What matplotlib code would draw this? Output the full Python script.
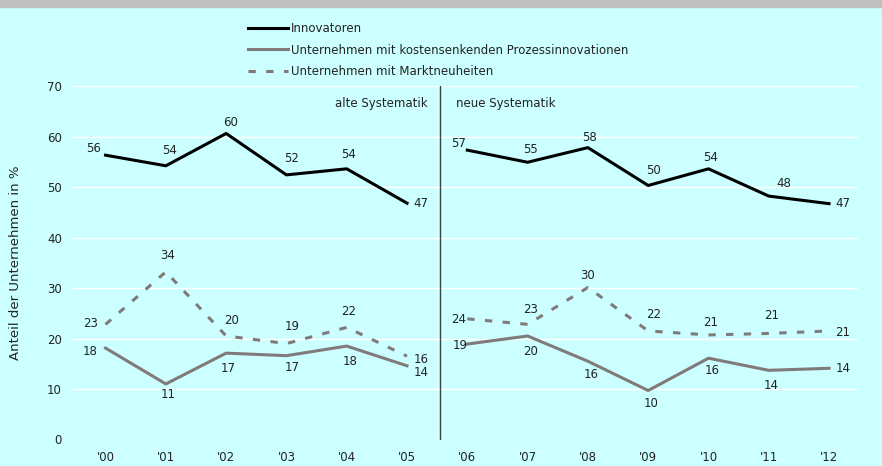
import numpy as np
import matplotlib
matplotlib.use('Agg')
import matplotlib.pyplot as plt
from matplotlib.patches import Rectangle

# data
years = ["'00", "'01", "'02", "'03", "'04", "'05", "'06", "'07", "'08", "'09", "'10", "'11", "'12"]
innovatoren = [56.3, 54.2, 60.6, 52.4, 53.6, 46.8, 57.3, 54.9, 57.8, 50.3, 53.6, 48.2, 46.7]
innovatoren_lbl = [56, 54, 60, 52, 54, 47, 57, 55, 58, 50, 54, 48, 47]
prozess = [18.1, 11.0, 17.1, 16.6, 18.5, 14.6, 18.9, 20.5, 15.5, 9.7, 16.1, 13.7, 14.1]
prozess_lbl = [18, 11, 17, 17, 18, 14, 19, 20, 16, 10, 16, 14, 14]
markt = [22.8, 33.2, 20.5, 19.0, 22.2, 16.5, 23.9, 22.8, 30.1, 21.5, 20.7, 21.0, 21.5]
markt_lbl = [23, 34, 20, 19, 22, 16, 24, 23, 30, 22, 21, 21, 21]
series_names = ['Innovatoren',
                'Unternehmen mit kostensenkenden Prozessinnovationen',
                'Unternehmen mit Marktneuheiten']
n_alt = 6  # '00-'05 alte Systematik, ab '06 neue Systematik

# label offsets in pixels (dx, dy)
off_inno = [(-12, 7), (4, 15), (4, 11), (5, 16), (2, 14), (14, 0),
            (-9, 7), (3, 13), (2, 10), (5, 15), (2, 11), (15, 13), (14, 0)]
off_proz = [(-15, -3), (2, -11), (2, -15), (6, -12), (3, -15), (14, -7),
            (-7, -1), (3, -16), (3, -13), (3, -13), (4, -12), (2, -15), (14, 0)]
off_markt = [(-15, 1), (2, 16), (5, 15), (6, 17), (2, 16), (14, -3),
             (-9, -1), (3, 15), (0, 12), (5, 16), (2, 12), (3, 18), (14, -2)]

bg = '#CCFFFF'
gray = '#807A7A'
txt = '#222222'
fs = 8.5
plt.rcParams['font.family'] = ['DejaVu Sans']

fig = plt.figure(figsize=(8.82, 4.66), dpi=100, facecolor=bg)
ax = fig.add_axes([73/882, 1-439.5/466, (858-73)/882, (439.5-86)/466])
ax.set_facecolor(bg)
fig.patches.append(Rectangle((0, 1-7/466), 1, 7/466, transform=fig.transFigure,
                             color='#C0C0C0', zorder=0))

x = np.arange(len(years))
styles = [dict(color='black', lw=2.2),
          dict(color=gray, lw=2.2),
          dict(color=gray, lw=2.2, linestyle=(0, (2.4, 3.4)))]
handles = []
for vals, st in zip([innovatoren, prozess, markt], styles):
    # two separate pieces, no line across the methodology break
    h, = ax.plot(x[:n_alt], vals[:n_alt], zorder=3, **st)
    ax.plot(x[n_alt:], vals[n_alt:], zorder=3, **st)
    handles.append(h)

for vals, lbls, offs in [(innovatoren, innovatoren_lbl, off_inno),
                         (prozess, prozess_lbl, off_proz),
                         (markt, markt_lbl, off_markt)]:
    for xi, v, l, o in zip(x, vals, lbls, offs):
        ax.annotate(str(l), (xi, v), xytext=o, textcoords='offset pixels',
                    ha='center', va='center', fontsize=fs, color=txt, zorder=4)

ax.set_ylim(0, 70)
ax.set_yticks(range(0, 71, 10))
ax.set_xlim(-0.54, 12.48)
ax.set_xticks(x)
ax.set_xticklabels(years)
ax.tick_params(length=0, labelsize=fs, colors=txt)
ax.tick_params(axis='x', pad=8)
ax.tick_params(axis='y', pad=8)
ax.grid(axis='y', color='white', lw=1)
ax.set_axisbelow(True)
for s in ax.spines.values():
    s.set_visible(False)

# separator between old and new methodology
ax.axvline(5.55, color='#404040', lw=1, zorder=2)
ax.text(5.35, 66.5, 'alte Systematik', ha='right', va='center', fontsize=fs, color=txt)
ax.text(5.82, 66.5, 'neue Systematik', ha='left', va='center', fontsize=fs, color=txt)

ax.set_ylabel('Anteil der Unternehmen in %', fontsize=9.5, color=txt, labelpad=18)

fig.legend(handles, series_names, loc='upper left',
           bbox_to_anchor=(248/882, 1-22/466), frameon=False, fontsize=fs,
           handlelength=3.4, handletextpad=0.25, labelspacing=0.72, borderpad=0,
           borderaxespad=0, labelcolor=txt)

plt.savefig('out.png', dpi=100, facecolor=bg)
